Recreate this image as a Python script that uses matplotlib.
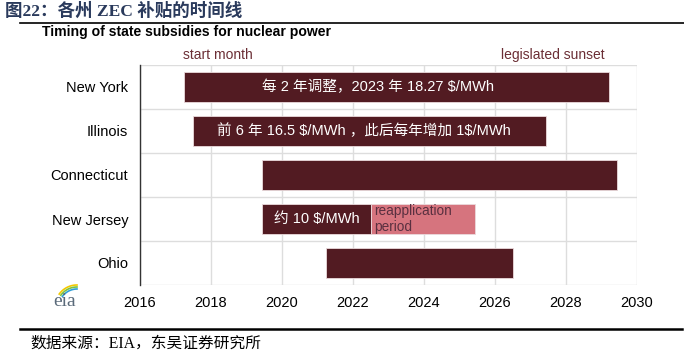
import matplotlib.pyplot as plt
import numpy as np

# data
states = ['New York', 'Illinois', 'Connecticut', 'New Jersey', 'Ohio']
start = [2017.25, 2017.5, 2019.45, 2019.45, 2021.25]
end = [2029.2, 2027.45, 2029.45, 2022.5, 2026.5]
reapply_start = 2022.5
reapply_end = 2025.45
bar_text = [r'每 2 年调整，2023 年 18.27 \$/MWh',
            r'前 6 年 16.5 \$/MWh ，此后每年增加 1\$/MWh',
            '',
            r'约 10 \$/MWh',
            '']
text_x = [2022.7, 2022.3, None, 2020.97, None]
years = np.arange(2016, 2031, 2)

dark = '#521b22'
pink = '#d6747e'
cjk = ['Liberation Sans', 'Noto Sans CJK SC']

fig = plt.figure(figsize=(6.84, 3.54), dpi=100)
ax = fig.add_axes([140/684, 1-285/354, 497/684, 220/354])

y = np.arange(len(states))
ax.barh(y, np.array(end) - np.array(start), left=start, height=0.66,
        color=dark, edgecolor='#eadadc', linewidth=0.6, zorder=3)
ax.barh(3, reapply_end - reapply_start, left=reapply_start, height=0.66,
        color=pink, edgecolor='#eadadc', linewidth=0.6, zorder=3)

for i, t in enumerate(bar_text):
    if t:
        ax.text(text_x[i], i, t, color='white', ha='center', va='center',
                fontsize=10.5, family=cjk, zorder=4)
ax.text(reapply_start + 0.1, 3, 'reapplication\nperiod', color='#5a3040',
        ha='left', va='center', fontsize=9.8, family='Liberation Sans',
        linespacing=1.1, zorder=4)

ax.set_xlim(2016, 2030)
ax.set_ylim(len(states) - 0.5, -0.5)
ax.set_xticks(years)
ax.set_xticklabels([str(v) for v in years], fontsize=10.5, family='Liberation Sans')
ax.set_yticks(y)
ax.set_yticklabels(states, fontsize=10.5, family='Liberation Sans')
ax.tick_params(length=0, pad=8)
ax.tick_params(axis='y', pad=8.5)
for v in years:
    ax.axvline(v, color='#dddddd', lw=1, zorder=1)
for v in np.arange(-0.5, len(states), 1):
    ax.axhline(v, color='#dddddd', lw=1, zorder=1)
for s in ['top', 'right', 'bottom']:
    ax.spines[s].set_visible(False)
ax.spines['left'].set_color('#333333')
ax.spines['left'].set_linewidth(1)

# chart titles
fig.text(42/684, 1-32/354, 'Timing of state subsidies for nuclear power',
         fontsize=10.1, fontweight='bold', family='Liberation Sans', va='center')
fig.text(218/684, 1-55/354, 'start month', color='#6b2e35', fontsize=10,
         family='Liberation Sans', ha='center', va='center')
fig.text(553/684, 1-55/354, 'legislated sunset', color='#6b2e35', fontsize=10,
         family='Liberation Sans', ha='center', va='center')

# small eia logo
fig.text(65/684, 1-302/354, 'eia', color='#5a6a7a', fontsize=14,
         family='Liberation Serif', ha='center', va='center')
t = np.linspace(np.pi/2, 0.8*np.pi, 20)
for k, c in enumerate(['#f2c800', '#7cc242', '#2f9fd8']):
    r = 22 - k * 2
    xs = (77 + r * np.cos(t)) / 684
    ys = 1 - (307 - r * np.sin(t)) / 354
    fig.add_artist(plt.Line2D(xs, ys, color=c, lw=1.2))

# report heading and source
fig.text(5/684, 1-11/354, '图22：各州 ZEC 补贴的时间线', color='#2a3a5c',
         fontsize=12.6, fontweight='bold', family=['Liberation Serif', 'Noto Sans CJK SC'],
         va='center')
fig.add_artist(plt.Line2D([20/684, 1], [1-23/354, 1-23/354], color='black', lw=1.2))
fig.add_artist(plt.Line2D([20/684, 682/684], [1-329/354, 1-329/354], color='black', lw=1.8))
fig.text(30/684, 1-344/354, '数据来源：EIA，东吴证券研究所', color='black',
         fontsize=11.3, family=['Liberation Serif', 'Noto Sans CJK SC'], va='center')

fig.savefig('out.png', dpi=100)
